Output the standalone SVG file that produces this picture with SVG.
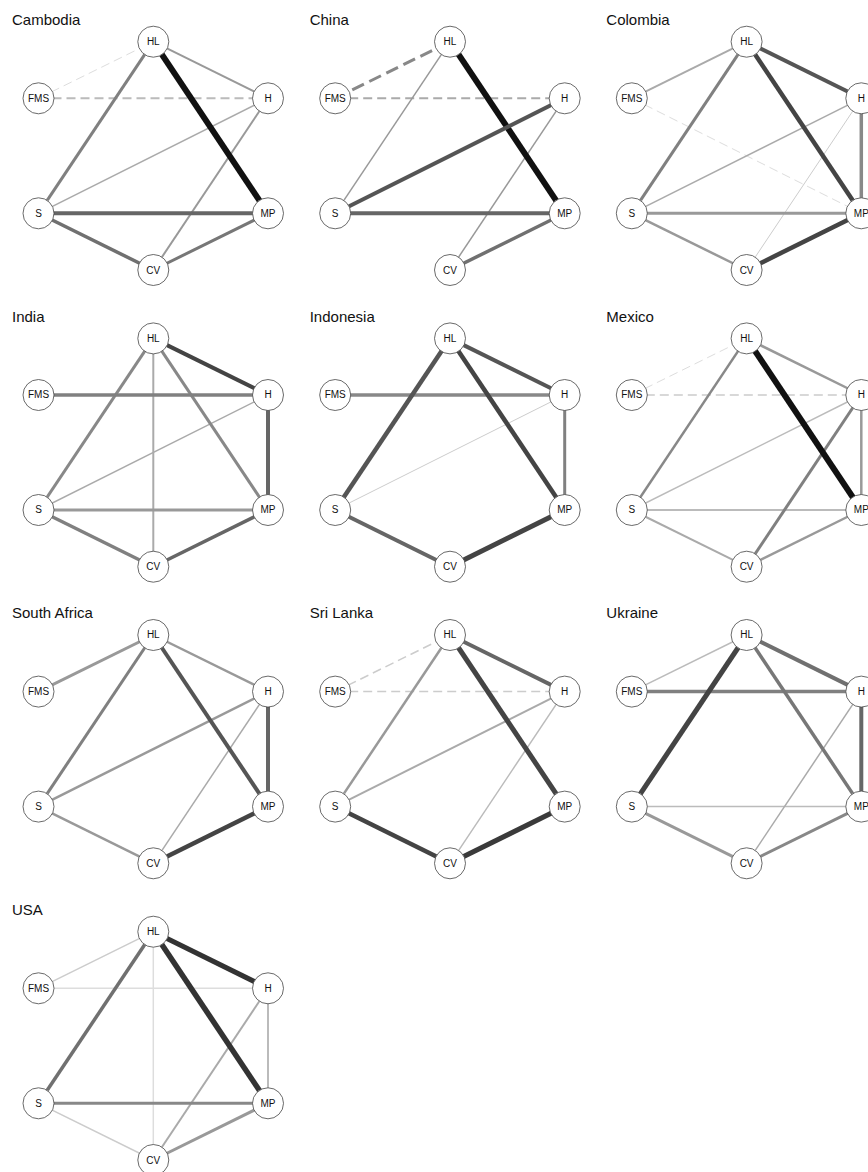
<svg xmlns="http://www.w3.org/2000/svg" width="868" height="1172" viewBox="0 0 868 1172">
<style>
.title{font-family:"Liberation Sans",Arial,sans-serif;font-size:15px;fill:#111}
.node circle{fill:#fff;stroke:#444;stroke-width:0.8}
.node text{font-family:"Liberation Sans",Arial,sans-serif;font-size:10px;fill:#111;text-anchor:middle}
.edges line{fill:none;stroke-linecap:butt}
.d{stroke-dasharray:9 5}
</style>
<rect width="868" height="1172" fill="#fff"/>

<!-- Cambodia -->
<g id="cambodia" transform="translate(0,0)">
<text class="title" x="12" y="25">Cambodia</text>
<g id="cambodia-edges" class="edges">
<line class="d" x1="38.5" y1="98.3" x2="153.3" y2="41.7" stroke="#ddd" stroke-width="1"/>
<line class="d" x1="38.5" y1="98.3" x2="268" y2="98.3" stroke="#bbb" stroke-width="2"/>
<line x1="153.3" y1="41.7" x2="268" y2="98.3" stroke="#999" stroke-width="2"/>
<line x1="153.3" y1="41.7" x2="38.5" y2="213.3" stroke="#808080" stroke-width="3"/>
<line x1="38.5" y1="213.3" x2="268" y2="98.3" stroke="#aaa" stroke-width="1.5"/>
<line x1="153.3" y1="270" x2="268" y2="98.3" stroke="#999" stroke-width="2"/>
<line x1="38.5" y1="213.3" x2="268" y2="213.3" stroke="#666" stroke-width="4"/>
<line x1="38.5" y1="213.3" x2="153.3" y2="270" stroke="#707070" stroke-width="3.5"/>
<line x1="153.3" y1="270" x2="268" y2="213.3" stroke="#777" stroke-width="3"/>
<line x1="153.3" y1="41.7" x2="268" y2="213.3" stroke="#111" stroke-width="6"/>
</g>
<g id="cambodia-HL" class="node"><circle cx="153.3" cy="41.7" r="15.5"/><text x="153.3" y="45.2">HL</text></g>
<g id="cambodia-FMS" class="node"><circle cx="38.5" cy="98.3" r="15.5"/><text x="38.5" y="101.8">FMS</text></g>
<g id="cambodia-H" class="node"><circle cx="268" cy="98.3" r="15.5"/><text x="268" y="101.8">H</text></g>
<g id="cambodia-S" class="node"><circle cx="38.5" cy="213.3" r="15.5"/><text x="38.5" y="216.8">S</text></g>
<g id="cambodia-MP" class="node"><circle cx="268" cy="213.3" r="15.5"/><text x="268" y="216.8">MP</text></g>
<g id="cambodia-CV" class="node"><circle cx="153.3" cy="270" r="15.5"/><text x="153.3" y="273.5">CV</text></g>
</g>

<!-- China -->
<g id="china" transform="translate(296.7,0)">
<text class="title" x="13" y="25">China</text>
<g id="china-edges" class="edges">
<line x1="38.5" y1="98.3" x2="153.3" y2="41.7" stroke="#888" stroke-width="3" stroke-dasharray="13 6"/>
<line class="d" x1="38.5" y1="98.3" x2="268" y2="98.3" stroke="#aaa" stroke-width="2"/>
<line x1="153.3" y1="41.7" x2="38.5" y2="213.3" stroke="#999" stroke-width="1.5"/>
<line x1="153.3" y1="270" x2="268" y2="98.3" stroke="#999" stroke-width="1.5"/>
<line x1="38.5" y1="213.3" x2="268" y2="213.3" stroke="#666" stroke-width="4"/>
<line x1="153.3" y1="270" x2="268" y2="213.3" stroke="#707070" stroke-width="3.5"/>
<line x1="153.3" y1="41.7" x2="268" y2="213.3" stroke="#111" stroke-width="6"/>
<line x1="38.5" y1="213.3" x2="268" y2="98.3" stroke="#555" stroke-width="4"/>
</g>
<g id="china-HL" class="node"><circle cx="153.3" cy="41.7" r="15.5"/><text x="153.3" y="45.2">HL</text></g>
<g id="china-FMS" class="node"><circle cx="38.5" cy="98.3" r="15.5"/><text x="38.5" y="101.8">FMS</text></g>
<g id="china-H" class="node"><circle cx="268" cy="98.3" r="15.5"/><text x="268" y="101.8">H</text></g>
<g id="china-S" class="node"><circle cx="38.5" cy="213.3" r="15.5"/><text x="38.5" y="216.8">S</text></g>
<g id="china-MP" class="node"><circle cx="268" cy="213.3" r="15.5"/><text x="268" y="216.8">MP</text></g>
<g id="china-CV" class="node"><circle cx="153.3" cy="270" r="15.5"/><text x="153.3" y="273.5">CV</text></g>
</g>

<!-- Colombia -->
<g id="colombia" transform="translate(593.3,0)">
<text class="title" x="13" y="25">Colombia</text>
<g id="colombia-edges" class="edges">
<line class="d" x1="38.5" y1="98.3" x2="268" y2="213.3" stroke="#ddd" stroke-width="1"/>
<line x1="38.5" y1="98.3" x2="153.3" y2="41.7" stroke="#aaa" stroke-width="2"/>
<line x1="38.5" y1="213.3" x2="268" y2="98.3" stroke="#aaa" stroke-width="1.5"/>
<line x1="153.3" y1="270" x2="268" y2="98.3" stroke="#ccc" stroke-width="1"/>
<line x1="38.5" y1="213.3" x2="268" y2="213.3" stroke="#999" stroke-width="3"/>
<line x1="38.5" y1="213.3" x2="153.3" y2="270" stroke="#999" stroke-width="2.5"/>
<line x1="153.3" y1="41.7" x2="38.5" y2="213.3" stroke="#808080" stroke-width="3"/>
<line x1="268" y1="98.3" x2="268" y2="213.3" stroke="#888" stroke-width="3.5"/>
<line x1="153.3" y1="41.7" x2="268" y2="98.3" stroke="#555" stroke-width="4"/>
<line x1="153.3" y1="41.7" x2="268" y2="213.3" stroke="#444" stroke-width="4.5"/>
<line x1="153.3" y1="270" x2="268" y2="213.3" stroke="#444" stroke-width="4.5"/>
</g>
<g id="colombia-HL" class="node"><circle cx="153.3" cy="41.7" r="15.5"/><text x="153.3" y="45.2">HL</text></g>
<g id="colombia-FMS" class="node"><circle cx="38.5" cy="98.3" r="15.5"/><text x="38.5" y="101.8">FMS</text></g>
<g id="colombia-H" class="node"><circle cx="268" cy="98.3" r="15.5"/><text x="268" y="101.8">H</text></g>
<g id="colombia-S" class="node"><circle cx="38.5" cy="213.3" r="15.5"/><text x="38.5" y="216.8">S</text></g>
<g id="colombia-MP" class="node"><circle cx="268" cy="213.3" r="15.5"/><text x="268" y="216.8">MP</text></g>
<g id="colombia-CV" class="node"><circle cx="153.3" cy="270" r="15.5"/><text x="153.3" y="273.5">CV</text></g>
</g>

<!-- India -->
<g id="india" transform="translate(0,296.7)">
<text class="title" x="12" y="25">India</text>
<g id="india-edges" class="edges">
<line x1="38.5" y1="213.3" x2="268" y2="98.3" stroke="#aaa" stroke-width="1.5"/>
<line x1="153.3" y1="41.7" x2="153.3" y2="270" stroke="#aaa" stroke-width="2"/>
<line x1="38.5" y1="213.3" x2="268" y2="213.3" stroke="#999" stroke-width="3"/>
<line x1="153.3" y1="41.7" x2="38.5" y2="213.3" stroke="#888" stroke-width="3"/>
<line x1="153.3" y1="41.7" x2="268" y2="213.3" stroke="#888" stroke-width="3"/>
<line x1="38.5" y1="98.3" x2="268" y2="98.3" stroke="#808080" stroke-width="3.5"/>
<line x1="38.5" y1="213.3" x2="153.3" y2="270" stroke="#808080" stroke-width="3.5"/>
<line x1="153.3" y1="270" x2="268" y2="213.3" stroke="#666" stroke-width="3.5"/>
<line x1="268" y1="98.3" x2="268" y2="213.3" stroke="#666" stroke-width="4"/>
<line x1="153.3" y1="41.7" x2="268" y2="98.3" stroke="#444" stroke-width="4"/>
</g>
<g id="india-HL" class="node"><circle cx="153.3" cy="41.7" r="15.5"/><text x="153.3" y="45.2">HL</text></g>
<g id="india-FMS" class="node"><circle cx="38.5" cy="98.3" r="15.5"/><text x="38.5" y="101.8">FMS</text></g>
<g id="india-H" class="node"><circle cx="268" cy="98.3" r="15.5"/><text x="268" y="101.8">H</text></g>
<g id="india-S" class="node"><circle cx="38.5" cy="213.3" r="15.5"/><text x="38.5" y="216.8">S</text></g>
<g id="india-MP" class="node"><circle cx="268" cy="213.3" r="15.5"/><text x="268" y="216.8">MP</text></g>
<g id="india-CV" class="node"><circle cx="153.3" cy="270" r="15.5"/><text x="153.3" y="273.5">CV</text></g>
</g>

<!-- Indonesia -->
<g id="indonesia" transform="translate(296.7,296.7)">
<text class="title" x="13" y="25">Indonesia</text>
<g id="indonesia-edges" class="edges">
<line x1="38.5" y1="213.3" x2="268" y2="98.3" stroke="#ccc" stroke-width="1"/>
<line x1="38.5" y1="98.3" x2="268" y2="98.3" stroke="#888" stroke-width="3.5"/>
<line x1="268" y1="98.3" x2="268" y2="213.3" stroke="#808080" stroke-width="3"/>
<line x1="38.5" y1="213.3" x2="153.3" y2="270" stroke="#666" stroke-width="4"/>
<line x1="153.3" y1="41.7" x2="268" y2="98.3" stroke="#555" stroke-width="4"/>
<line x1="153.3" y1="41.7" x2="38.5" y2="213.3" stroke="#555" stroke-width="4.5"/>
<line x1="153.3" y1="41.7" x2="268" y2="213.3" stroke="#444" stroke-width="4.5"/>
<line x1="153.3" y1="270" x2="268" y2="213.3" stroke="#444" stroke-width="5"/>
</g>
<g id="indonesia-HL" class="node"><circle cx="153.3" cy="41.7" r="15.5"/><text x="153.3" y="45.2">HL</text></g>
<g id="indonesia-FMS" class="node"><circle cx="38.5" cy="98.3" r="15.5"/><text x="38.5" y="101.8">FMS</text></g>
<g id="indonesia-H" class="node"><circle cx="268" cy="98.3" r="15.5"/><text x="268" y="101.8">H</text></g>
<g id="indonesia-S" class="node"><circle cx="38.5" cy="213.3" r="15.5"/><text x="38.5" y="216.8">S</text></g>
<g id="indonesia-MP" class="node"><circle cx="268" cy="213.3" r="15.5"/><text x="268" y="216.8">MP</text></g>
<g id="indonesia-CV" class="node"><circle cx="153.3" cy="270" r="15.5"/><text x="153.3" y="273.5">CV</text></g>
</g>

<!-- Mexico -->
<g id="mexico" transform="translate(593.3,296.7)">
<text class="title" x="13" y="25">Mexico</text>
<g id="mexico-edges" class="edges">
<line class="d" x1="38.5" y1="98.3" x2="153.3" y2="41.7" stroke="#ddd" stroke-width="1"/>
<line class="d" x1="38.5" y1="98.3" x2="268" y2="98.3" stroke="#ccc" stroke-width="1.5"/>
<line x1="38.5" y1="213.3" x2="268" y2="98.3" stroke="#bbb" stroke-width="1.5"/>
<line x1="38.5" y1="213.3" x2="268" y2="213.3" stroke="#bbb" stroke-width="2"/>
<line x1="38.5" y1="213.3" x2="153.3" y2="270" stroke="#aaa" stroke-width="2"/>
<line x1="153.3" y1="270" x2="268" y2="213.3" stroke="#999" stroke-width="2.5"/>
<line x1="268" y1="98.3" x2="268" y2="213.3" stroke="#999" stroke-width="2.5"/>
<line x1="153.3" y1="41.7" x2="268" y2="98.3" stroke="#999" stroke-width="2.5"/>
<line x1="153.3" y1="41.7" x2="38.5" y2="213.3" stroke="#888" stroke-width="2.5"/>
<line x1="153.3" y1="270" x2="268" y2="98.3" stroke="#808080" stroke-width="3"/>
<line x1="153.3" y1="41.7" x2="268" y2="213.3" stroke="#111" stroke-width="6"/>
</g>
<g id="mexico-HL" class="node"><circle cx="153.3" cy="41.7" r="15.5"/><text x="153.3" y="45.2">HL</text></g>
<g id="mexico-FMS" class="node"><circle cx="38.5" cy="98.3" r="15.5"/><text x="38.5" y="101.8">FMS</text></g>
<g id="mexico-H" class="node"><circle cx="268" cy="98.3" r="15.5"/><text x="268" y="101.8">H</text></g>
<g id="mexico-S" class="node"><circle cx="38.5" cy="213.3" r="15.5"/><text x="38.5" y="216.8">S</text></g>
<g id="mexico-MP" class="node"><circle cx="268" cy="213.3" r="15.5"/><text x="268" y="216.8">MP</text></g>
<g id="mexico-CV" class="node"><circle cx="153.3" cy="270" r="15.5"/><text x="153.3" y="273.5">CV</text></g>
</g>

<!-- South Africa -->
<g id="south-africa" transform="translate(0,593.3)">
<text class="title" x="12" y="25">South Africa</text>
<g id="south-africa-edges" class="edges">
<line x1="153.3" y1="270" x2="268" y2="98.3" stroke="#aaa" stroke-width="1.5"/>
<line x1="38.5" y1="98.3" x2="153.3" y2="41.7" stroke="#999" stroke-width="3"/>
<line x1="153.3" y1="41.7" x2="268" y2="98.3" stroke="#999" stroke-width="2.5"/>
<line x1="38.5" y1="213.3" x2="268" y2="98.3" stroke="#999" stroke-width="2.5"/>
<line x1="38.5" y1="213.3" x2="153.3" y2="270" stroke="#999" stroke-width="2.5"/>
<line x1="153.3" y1="41.7" x2="38.5" y2="213.3" stroke="#808080" stroke-width="3"/>
<line x1="268" y1="98.3" x2="268" y2="213.3" stroke="#666" stroke-width="4"/>
<line x1="153.3" y1="41.7" x2="268" y2="213.3" stroke="#555" stroke-width="4"/>
<line x1="153.3" y1="270" x2="268" y2="213.3" stroke="#444" stroke-width="4.5"/>
</g>
<g id="south-africa-HL" class="node"><circle cx="153.3" cy="41.7" r="15.5"/><text x="153.3" y="45.2">HL</text></g>
<g id="south-africa-FMS" class="node"><circle cx="38.5" cy="98.3" r="15.5"/><text x="38.5" y="101.8">FMS</text></g>
<g id="south-africa-H" class="node"><circle cx="268" cy="98.3" r="15.5"/><text x="268" y="101.8">H</text></g>
<g id="south-africa-S" class="node"><circle cx="38.5" cy="213.3" r="15.5"/><text x="38.5" y="216.8">S</text></g>
<g id="south-africa-MP" class="node"><circle cx="268" cy="213.3" r="15.5"/><text x="268" y="216.8">MP</text></g>
<g id="south-africa-CV" class="node"><circle cx="153.3" cy="270" r="15.5"/><text x="153.3" y="273.5">CV</text></g>
</g>

<!-- Sri Lanka -->
<g id="sri-lanka" transform="translate(296.7,593.3)">
<text class="title" x="13" y="25">Sri Lanka</text>
<g id="sri-lanka-edges" class="edges">
<line class="d" x1="38.5" y1="98.3" x2="153.3" y2="41.7" stroke="#ccc" stroke-width="1.5"/>
<line class="d" x1="38.5" y1="98.3" x2="268" y2="98.3" stroke="#ccc" stroke-width="1.5"/>
<line x1="153.3" y1="270" x2="268" y2="98.3" stroke="#bbb" stroke-width="1.5"/>
<line x1="38.5" y1="213.3" x2="268" y2="98.3" stroke="#aaa" stroke-width="2"/>
<line x1="153.3" y1="41.7" x2="38.5" y2="213.3" stroke="#999" stroke-width="2.5"/>
<line x1="153.3" y1="41.7" x2="268" y2="98.3" stroke="#666" stroke-width="4"/>
<line x1="38.5" y1="213.3" x2="153.3" y2="270" stroke="#444" stroke-width="4.5"/>
<line x1="153.3" y1="41.7" x2="268" y2="213.3" stroke="#444" stroke-width="5"/>
<line x1="153.3" y1="270" x2="268" y2="213.3" stroke="#3a3a3a" stroke-width="5"/>
</g>
<g id="sri-lanka-HL" class="node"><circle cx="153.3" cy="41.7" r="15.5"/><text x="153.3" y="45.2">HL</text></g>
<g id="sri-lanka-FMS" class="node"><circle cx="38.5" cy="98.3" r="15.5"/><text x="38.5" y="101.8">FMS</text></g>
<g id="sri-lanka-H" class="node"><circle cx="268" cy="98.3" r="15.5"/><text x="268" y="101.8">H</text></g>
<g id="sri-lanka-S" class="node"><circle cx="38.5" cy="213.3" r="15.5"/><text x="38.5" y="216.8">S</text></g>
<g id="sri-lanka-MP" class="node"><circle cx="268" cy="213.3" r="15.5"/><text x="268" y="216.8">MP</text></g>
<g id="sri-lanka-CV" class="node"><circle cx="153.3" cy="270" r="15.5"/><text x="153.3" y="273.5">CV</text></g>
</g>

<!-- Ukraine -->
<g id="ukraine" transform="translate(593.3,593.3)">
<text class="title" x="13" y="25">Ukraine</text>
<g id="ukraine-edges" class="edges">
<line x1="38.5" y1="98.3" x2="153.3" y2="41.7" stroke="#bbb" stroke-width="1.5"/>
<line x1="38.5" y1="213.3" x2="268" y2="213.3" stroke="#bbb" stroke-width="1.5"/>
<line x1="153.3" y1="270" x2="268" y2="98.3" stroke="#aaa" stroke-width="1.5"/>
<line x1="38.5" y1="213.3" x2="153.3" y2="270" stroke="#999" stroke-width="3"/>
<line x1="153.3" y1="270" x2="268" y2="213.3" stroke="#888" stroke-width="3"/>
<line x1="38.5" y1="98.3" x2="268" y2="98.3" stroke="#808080" stroke-width="3.5"/>
<line x1="153.3" y1="41.7" x2="268" y2="213.3" stroke="#777" stroke-width="3.5"/>
<line x1="153.3" y1="41.7" x2="268" y2="98.3" stroke="#707070" stroke-width="4"/>
<line x1="268" y1="98.3" x2="268" y2="213.3" stroke="#666" stroke-width="4"/>
<line x1="153.3" y1="41.7" x2="38.5" y2="213.3" stroke="#444" stroke-width="5"/>
</g>
<g id="ukraine-HL" class="node"><circle cx="153.3" cy="41.7" r="15.5"/><text x="153.3" y="45.2">HL</text></g>
<g id="ukraine-FMS" class="node"><circle cx="38.5" cy="98.3" r="15.5"/><text x="38.5" y="101.8">FMS</text></g>
<g id="ukraine-H" class="node"><circle cx="268" cy="98.3" r="15.5"/><text x="268" y="101.8">H</text></g>
<g id="ukraine-S" class="node"><circle cx="38.5" cy="213.3" r="15.5"/><text x="38.5" y="216.8">S</text></g>
<g id="ukraine-MP" class="node"><circle cx="268" cy="213.3" r="15.5"/><text x="268" y="216.8">MP</text></g>
<g id="ukraine-CV" class="node"><circle cx="153.3" cy="270" r="15.5"/><text x="153.3" y="273.5">CV</text></g>
</g>

<!-- USA -->
<g id="usa" transform="translate(0,890)">
<text class="title" x="12" y="25">USA</text>
<g id="usa-edges" class="edges">
<line x1="38.5" y1="98.3" x2="268" y2="98.3" stroke="#ddd" stroke-width="1.5"/>
<line x1="153.3" y1="41.7" x2="153.3" y2="270" stroke="#ddd" stroke-width="1.5"/>
<line x1="38.5" y1="98.3" x2="153.3" y2="41.7" stroke="#ccc" stroke-width="1.5"/>
<line x1="38.5" y1="213.3" x2="153.3" y2="270" stroke="#ccc" stroke-width="1.5"/>
<line x1="268" y1="98.3" x2="268" y2="213.3" stroke="#bbb" stroke-width="2"/>
<line x1="153.3" y1="270" x2="268" y2="98.3" stroke="#aaa" stroke-width="2"/>
<line x1="153.3" y1="270" x2="268" y2="213.3" stroke="#999" stroke-width="3"/>
<line x1="38.5" y1="213.3" x2="268" y2="213.3" stroke="#888" stroke-width="3"/>
<line x1="153.3" y1="41.7" x2="38.5" y2="213.3" stroke="#707070" stroke-width="3.5"/>
<line x1="153.3" y1="41.7" x2="268" y2="98.3" stroke="#333" stroke-width="5"/>
<line x1="153.3" y1="41.7" x2="268" y2="213.3" stroke="#333" stroke-width="5.5"/>
</g>
<g id="usa-HL" class="node"><circle cx="153.3" cy="41.7" r="15.5"/><text x="153.3" y="45.2">HL</text></g>
<g id="usa-FMS" class="node"><circle cx="38.5" cy="98.3" r="15.5"/><text x="38.5" y="101.8">FMS</text></g>
<g id="usa-H" class="node"><circle cx="268" cy="98.3" r="15.5"/><text x="268" y="101.8">H</text></g>
<g id="usa-S" class="node"><circle cx="38.5" cy="213.3" r="15.5"/><text x="38.5" y="216.8">S</text></g>
<g id="usa-MP" class="node"><circle cx="268" cy="213.3" r="15.5"/><text x="268" y="216.8">MP</text></g>
<g id="usa-CV" class="node"><circle cx="153.3" cy="270" r="15.5"/><text x="153.3" y="273.5">CV</text></g>
</g>
</svg>
